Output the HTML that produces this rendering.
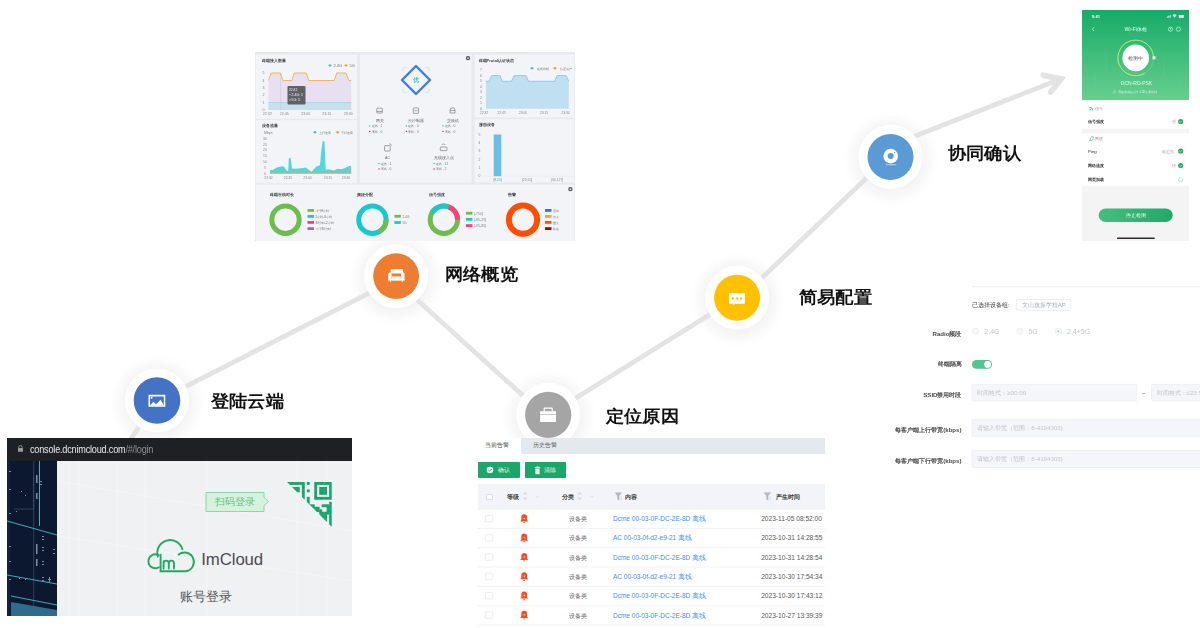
<!DOCTYPE html>
<html><head><meta charset="utf-8">
<style>
*{box-sizing:border-box;margin:0;padding:0}
html,body{width:1200px;height:628px;overflow:hidden;background:#fff;font-family:"Liberation Sans",sans-serif}
.abs{position:absolute}
.title{position:absolute;font-size:18px;font-weight:bold;color:#111;line-height:18px;white-space:nowrap;transform-origin:0 0;transform:scale(1.01,0.94)}
</style></head><body>
<!-- LINES & CIRCLES -->
<svg class="abs" style="left:0;top:0" width="1200" height="628" viewBox="0 0 1200 628">
<defs>
<radialGradient id="sh" cx="50%" cy="50%" r="50%">
<stop offset="0.6" stop-color="#f3f3f3" stop-opacity="1"/>
<stop offset="0.8" stop-color="#f9f9f9" stop-opacity="0.85"/>
<stop offset="1" stop-color="#fff" stop-opacity="0"/>
</radialGradient>
</defs>
<g fill="url(#sh)">
<circle cx="157.5" cy="402.5" r="50"/>
<circle cx="396.6" cy="278.1" r="50"/>
<circle cx="548.7" cy="416.8" r="50"/>
<circle cx="737.6" cy="299.8" r="50"/>
<circle cx="891.0" cy="158.9" r="50"/>
</g>
<g stroke="#e3e3e3" stroke-width="4.8" fill="none">
<line x1="105" y1="477" x2="157" y2="400.5"/>
<line x1="157" y1="401.1" x2="396.1" y2="279.4"/>
<line x1="396.1" y1="280.8" x2="548.2" y2="418.5"/>
<line x1="548.2" y1="415.2" x2="737.1" y2="297.5"/>
<line x1="737.1" y1="301.5" x2="890.5" y2="155.3"/>
<line x1="890.5" y1="145.8" x2="1060" y2="79.2"/>
<polyline points="1043.3,75.3 1061,79 1050.8,92" stroke-width="5.8" stroke-linecap="round" stroke-linejoin="miter" stroke-miterlimit="10"/>
</g>
<g fill="#fff">
<circle cx="157" cy="400.5" r="32"/>
<circle cx="396.1" cy="276.1" r="32"/>
<circle cx="548.2" cy="414.8" r="32"/>
<circle cx="737.1" cy="297.8" r="32"/>
<circle cx="890.5" cy="156.9" r="32"/>
</g>
<circle cx="157" cy="400.5" r="23.3" fill="#4472c4"/>
<circle cx="396.1" cy="276.1" r="22.9" fill="#ed7d31"/>
<circle cx="548.2" cy="414.8" r="23.1" fill="#a5a5a5"/>
<circle cx="737.1" cy="297.8" r="23" fill="#ffc000"/>
<circle cx="890.5" cy="156.9" r="23" fill="#5b9bd5"/>
<!-- icons -->
<g fill="#fff">
<!-- picture -->
<path d="M148.5,394.8h16.8v12h-16.8z M150,396.4v8.9h13.8v-8.9z" fill-rule="evenodd"/>
<path d="M150,405.5 L153.3,401.8 L156.1,404.3 L160.6,399.8 L164,405.5z"/>
<circle cx="151.6" cy="397.8" r="1"/>
<!-- sofa -->
<path d="M391.9,268.9h9.9a1.3,1.3 0 0 1 1.3,1.3v3.3h-12.5v-3.3a1.3,1.3 0 0 1 1.3,-1.3z"/>
<path d="M388.2,274.2a1.7,1.7 0 0 1 3.4,0v6.1h-3.4z"/><path d="M401.2,274.2a1.7,1.7 0 0 1 3.4,0v6.1h-3.4z"/>
<rect x="392.1" y="276.4" width="8.6" height="3.9"/>
<rect x="388.2" y="279.2" width="16.4" height="1.3"/>
<rect x="389.9" y="280.3" width="1.2" height="1.5"/><rect x="401.7" y="280.3" width="1.2" height="1.5"/>
<!-- toolbox -->
<path d="M543.6,411.2v-2.6a1.2,1.2 0 0 1 1.2,-1.2h6.8a1.2,1.2 0 0 1 1.2,1.2v2.6h-1.2v-2.4h-6.8v2.4z"/>
<rect x="540.1" y="411.2" width="15.9" height="3.2"/>
<rect x="540.1" y="415" width="15.9" height="7"/>
<!-- chat -->
<path d="M729.1,293.2h15.9v10.6h-10.2l-1.6,1.4v-1.4h-4.1z"/>
<!-- webcam -->
<circle cx="890.7" cy="156.1" r="7.3"/>
<rect x="886" y="164.4" width="9.8" height="0.8" opacity="0.75"/>
</g>
<g fill="#ffc000"><circle cx="732.7" cy="298.5" r="1.2"/><circle cx="737" cy="298.5" r="1.2"/><circle cx="741.2" cy="298.5" r="1.2"/></g>
<circle cx="890.7" cy="156.1" r="3" fill="#5b9bd5"/><circle cx="894.6" cy="152.3" r="0.6" fill="#5b9bd5"/>
</svg>
<div class="title" style="left:210.5px;top:393.4px">登陆云端</div>
<div class="title" style="left:445.3px;top:265.7px">网络概览</div>
<div class="title" style="left:605.5px;top:408px">定位原因</div>
<div class="title" style="left:799.1px;top:289.2px">简易配置</div>
<div class="title" style="left:948.1px;top:144.8px">协同确认</div>

<!-- DASHBOARD -->
<svg class="abs" style="left:255px;top:52px;filter:blur(0.25px)" width="320" height="189" viewBox="255 52 320 189" font-family="Liberation Sans, sans-serif">
<rect x="255" y="52" width="320" height="189" fill="#e7e9ee"/>
<g fill="#f3f4f7">
<rect x="256" y="54.5" width="101" height="64.3"/>
<rect x="256" y="120.2" width="101" height="63"/>
<rect x="360" y="54.6" width="111.6" height="128"/>
<rect x="474.6" y="54.6" width="99.6" height="63"/>
<rect x="474.6" y="119.2" width="99.6" height="63.4"/>
<rect x="256" y="184.6" width="318.2" height="56.4"/>
</g>
<!-- P1 -->
<text x="261.5" y="61.7" font-size="4.1" font-weight="bold" fill="#4a4a4a">终端接入数量</text>
<circle cx="330" cy="65.4" r="1.2" fill="#5ab4e8"/><line x1="328" y1="65.4" x2="332" y2="65.4" stroke="#5ab4e8" stroke-width="0.5"/>
<text x="333.5" y="67" font-size="4" fill="#777">2.4G</text>
<circle cx="346" cy="65.4" r="1.2" fill="#f0a030"/><line x1="344" y1="65.4" x2="348" y2="65.4" stroke="#f0a030" stroke-width="0.5"/>
<text x="349.5" y="67" font-size="4" fill="#777">5G</text>
<g font-size="3.6" fill="#888" text-anchor="middle">
<text x="263.5" y="74.2">5</text><text x="263.5" y="81.7">4</text><text x="263.5" y="89">3</text><text x="263.5" y="96.3">2</text><text x="263.5" y="103.5">1</text><text x="263.5" y="111.2">0</text>
<text x="267.2" y="115">22:32</text><text x="284.3" y="115">22:45</text><text x="305.7" y="115">23:00</text><text x="326.7" y="115">23:15</text><text x="348.3" y="115">23:30</text>
</g>
<path d="M268.5,80.5 L271.2,73 L280.3,73 L283,80.5 L291.8,80.5 L294.3,73 L306.2,73 L308.8,80.5 L334.2,80.5 L336.8,73 L346,73 L348.8,80.5 L351.2,80.5 L351.2,110 L268.5,110Z" fill="#e6e0f0"/>
<path d="M268.5,80.5 L271.2,73 L280.3,73 L283,80.5 L291.8,80.5 L294.3,73 L306.2,73 L308.8,80.5 L334.2,80.5 L336.8,73 L346,73 L348.8,80.5 L351.2,80.5" fill="none" stroke="#f2b04a" stroke-width="0.9" stroke-linejoin="round"/>
<rect x="268.5" y="102.3" width="82.7" height="7.7" fill="#c8dfee"/>
<line x1="268.5" y1="102.5" x2="351.2" y2="102.5" stroke="#a6d0ee" stroke-width="0.8"/>
<line x1="280.6" y1="73" x2="280.6" y2="110" stroke="#b8b8c8" stroke-width="0.3"/>
<rect x="287.5" y="86" width="18" height="18.5" rx="1" fill="#55565b" opacity="0.92"/>
<text x="289" y="90.5" font-size="3.3" fill="#eee">22:42</text>
<circle cx="290" cy="94.6" r="0.9" fill="#5ab4e8"/><text x="291.5" y="96" font-size="3.5" fill="#eee">2.4G: 1</text>
<circle cx="290" cy="99.8" r="0.9" fill="#f0a030"/><text x="291.5" y="101.2" font-size="3.5" fill="#eee">5G: 5</text>
<!-- P2 -->
<text x="261.5" y="127.2" font-size="4.1" font-weight="bold" fill="#4a4a4a">设备流量</text>
<text x="264" y="134" font-size="3.5" fill="#888">Mbps</text>
<circle cx="315" cy="132.3" r="1.2" fill="#5ab4e8"/><line x1="313" y1="132.3" x2="317" y2="132.3" stroke="#5ab4e8" stroke-width="0.5"/>
<text x="318.5" y="133.8" font-size="3.4" fill="#777">上行速率</text>
<circle cx="337.6" cy="132.3" r="1.2" fill="#f0a030"/><line x1="335.6" y1="132.3" x2="339.6" y2="132.3" stroke="#f0a030" stroke-width="0.5"/>
<text x="341" y="133.8" font-size="3.4" fill="#777">下行速率</text>
<g font-size="3.4" fill="#888" text-anchor="middle">
<text x="265" y="139.7">30</text><text x="265" y="145.5">25</text><text x="265" y="151.4">20</text><text x="265" y="157.2">15</text><text x="265" y="163.2">10</text><text x="265" y="169.2">5</text><text x="265" y="175">0</text>
<text x="268.5" y="179">22:32</text><text x="288" y="179">22:45</text><text x="307.5" y="179">23:00</text><text x="328" y="179">23:15</text><text x="346" y="179">23:30</text>
</g>
<path d="M270.1,173.7 L270.1,169.8 L272.9,170.1 L275.5,168.3 L277.4,167.3 L280.6,166.7 L282.5,166 L284.4,167.3 L286.9,170.9 L288.2,171.1 L288.8,158.4 L290.7,157.7 L292,168.6 L295.8,168.8 L300.9,168.3 L306,167.5 L308.6,169.8 L311.7,171.7 L313.7,169.2 L316.2,166.7 L320,165 L321.3,150.7 L322.6,141.2 L324.5,141.2 L325.7,169.8 L328.9,169.2 L334,170.5 L337.8,168.8 L341.7,169.2 L346.8,167.3 L349.3,166 L351.2,166.3 L351.2,173.7Z" fill="#4fd8dc"/>
<line x1="270.1" y1="172.8" x2="351.2" y2="172.8" stroke="#e8a850" stroke-width="0.7"/>
<!-- P3 -->
<path d="M416,66 L430,80 L416,94 L402,80Z" fill="none" stroke="#3b7cf6" stroke-width="2.4" stroke-linejoin="round"/>
<g fill="none" stroke="#a6e6dc" stroke-width="0.8">
<path d="M402.8,71 v-1.5 a2,2 0 0 1 2,-2 h1.5"/><path d="M429.2,71 v-1.5 a2,2 0 0 0 -2,-2 h-1.5"/>
<path d="M402.8,89 v1.5 a2,2 0 0 0 2,2 h1.5"/><path d="M429.2,89 v1.5 a2,2 0 0 1 -2,2 h-1.5"/>
</g>
<text x="416" y="82.4" font-size="6.2" font-weight="bold" fill="#3ccbb0" text-anchor="middle">优</text>
<circle cx="468" cy="58.2" r="1.5" fill="none" stroke="#4a4f5a" stroke-width="1.3"/>
<g fill="none" stroke="#7a7c85" stroke-width="0.7">
<rect x="376.8" y="108.2" width="5.6" height="4.8" rx="0.6"/><line x1="376.8" y1="111.4" x2="382.4" y2="111.4"/>
<rect x="413.3" y="108" width="5.2" height="5.4" rx="0.4"/><line x1="414.5" y1="110.7" x2="417.3" y2="110.7"/>
<path d="M450,113 v-3 l0.8,-2 h3.4 l0.8,2 v3z"/><line x1="450" y1="110.5" x2="455" y2="110.5"/>
<rect x="384.6" y="145.6" width="5.6" height="5.4" rx="0.5"/><path d="M389.5,143.6 a2.5,2.5 0 0 1 2,2"/>
<rect x="440.3" y="147" width="6.6" height="3.6" rx="0.5"/><path d="M441.8,145 a2,2 0 0 1 3.5,0"/>
</g>
<g font-size="3.5" fill="#666" text-anchor="middle">
<text x="379.5" y="121.5">网关</text><text x="416" y="121.5">云控制器</text><text x="452.5" y="121.5">交换机</text>
<text x="387.5" y="159.3">AC</text><text x="443.5" y="159.3">无线接入点</text>
</g>
<g font-size="3.4" fill="#777">
<text x="371.5" y="127.1">在线：1</text><text x="371.5" y="132.6">离线：0</text>
<text x="408" y="127.1">在线：0</text><text x="408" y="132.6">离线：0</text>
<text x="444.5" y="127.1">在线：0</text><text x="444.5" y="132.6">离线：0</text>
<text x="380.5" y="164.7">在线：1</text><text x="380.5" y="170.2">离线：0</text>
<text x="435.5" y="164.7">在线：11</text><text x="435.5" y="170.2">离线：2</text>
</g>
<g fill="#2ecc8a"><rect x="369" y="125.3" width="1.3" height="1.3"/><rect x="405.8" y="125.3" width="1.3" height="1.3"/><rect x="442.3" y="125.3" width="1.3" height="1.3"/><rect x="378.4" y="162.9" width="1.3" height="1.3"/><rect x="433.4" y="162.9" width="1.3" height="1.3"/></g>
<g fill="#d0306a"><rect x="369" y="130.8" width="1.3" height="1.3"/><rect x="405.8" y="130.8" width="1.3" height="1.3"/><rect x="442.3" y="130.8" width="1.3" height="1.3"/><rect x="378.4" y="168.4" width="1.3" height="1.3"/><rect x="433.4" y="168.4" width="1.3" height="1.3"/></g>
<!-- P4 -->
<text x="478.5" y="61.7" font-size="4.1" font-weight="bold" fill="#4a4a4a">终端Protal认证状态</text>
<circle cx="532" cy="68.2" r="1.2" fill="#5ab4e8"/><line x1="530" y1="68.2" x2="534" y2="68.2" stroke="#5ab4e8" stroke-width="0.5"/>
<text x="536.5" y="69.6" font-size="3.3" fill="#777">在线终端</text>
<circle cx="555" cy="68.2" r="1.2" fill="#f0a030"/><line x1="553" y1="68.2" x2="557" y2="68.2" stroke="#f0a030" stroke-width="0.5"/>
<text x="559.5" y="69.6" font-size="3.3" fill="#777">认证用户</text>
<g font-size="3.4" fill="#888" text-anchor="middle">
<text x="481" y="71.4">7</text><text x="481" y="77">6</text><text x="481" y="82.4">5</text><text x="481" y="87.9">4</text><text x="481" y="93.2">3</text><text x="481" y="98.8">2</text><text x="481" y="104.4">1</text><text x="481" y="109.9">0</text>
<text x="484" y="114">22:32</text><text x="501.6" y="114">22:45</text><text x="523" y="114">23:00</text><text x="544" y="114">23:15</text><text x="565.5" y="114">23:30</text>
</g>
<path d="M486,108.7 L486,81.3 L489.2,81.3 L491.5,75.6 L500,75.6 L502.5,81.3 L511.5,81.3 L514,75.6 L526,75.6 L528.5,81.3 L554.5,81.3 L557,75.6 L566,75.6 L568.8,81.3 L568.8,108.7Z" fill="#c0dff1"/>
<path d="M486,81.3 L489.2,81.3 L491.5,75.6 L500,75.6 L502.5,81.3 L511.5,81.3 L514,75.6 L526,75.6 L528.5,81.3 L554.5,81.3 L557,75.6 L566,75.6 L568.8,81.3" fill="none" stroke="#80c4ea" stroke-width="0.8"/>
<!-- P5 -->
<text x="478.5" y="125.7" font-size="4.1" font-weight="bold" fill="#4a4a4a">漫游设备</text>
<g font-size="3.4" fill="#888" text-anchor="middle">
<text x="479.5" y="135.5">5</text><text x="479.5" y="143.9">4</text><text x="479.5" y="152.2">3</text><text x="479.5" y="160.6">2</text><text x="479.5" y="169">1</text><text x="479.5" y="177.4">0</text>
<text x="497.5" y="181.2">(8,25]</text><text x="527" y="181.2">(25,50]</text><text x="557" y="181.2">(50,127]</text>
</g>
<line x1="482.5" y1="176.3" x2="574" y2="176.3" stroke="#dde0e6" stroke-width="0.4"/>
<rect x="493.7" y="134.5" width="7.6" height="41.7" fill="#6bbde6"/>
<!-- P6 -->
<g font-size="4.1" font-weight="bold" fill="#4a4a4a">
<text x="270.4" y="195.6">终端在线时长</text><text x="357.3" y="195.6">频段分配</text><text x="428.8" y="195.6">信号强度</text><text x="507.8" y="195.6">告警</text>
</g>
<circle cx="570.4" cy="189.2" r="1.5" fill="none" stroke="#4a4f5a" stroke-width="1.3"/>
<circle cx="285.5" cy="219.7" r="13.7" fill="none" stroke="#6cbd4e" stroke-width="5"/>
<circle cx="372.4" cy="219.7" r="13.7" fill="none" stroke="#16c9cf" stroke-width="5"/>
<path d="M386.1,219.7 A13.7,13.7 0 0 1 379.2,231.6" fill="none" stroke="#6cbd4e" stroke-width="5"/>
<circle cx="443.9" cy="219.7" r="13.7" fill="none" stroke="#6cbd4e" stroke-width="5"/>
<path d="M432,212.85 A13.7,13.7 0 0 1 448.6,206.8" fill="none" stroke="#16c9cf" stroke-width="5"/>
<path d="M448.6,206.8 A13.7,13.7 0 0 1 457.6,219.7" fill="none" stroke="#ff3d7a" stroke-width="5"/>
<circle cx="523" cy="219.7" r="14.1" fill="none" stroke="#ff4e00" stroke-width="6"/>
<g>
<rect x="307.5" y="209" width="6.5" height="2.8" fill="#6cbd4e"/><rect x="307.5" y="215" width="6.5" height="2.8" fill="#16c9cf"/><rect x="307.5" y="221" width="6.5" height="2.8" fill="#ff3d7a"/><rect x="307.5" y="227.2" width="6.5" height="2.8" fill="#9b6bc4"/>
<rect x="394.4" y="214.9" width="6.5" height="2.8" fill="#6cbd4e"/><rect x="394.4" y="221.1" width="6.5" height="2.8" fill="#16c9cf"/>
<rect x="465.9" y="211.8" width="6.5" height="2.8" fill="#6cbd4e"/><rect x="465.9" y="217.9" width="6.5" height="2.8" fill="#16c9cf"/><rect x="465.9" y="224.2" width="6.5" height="2.8" fill="#ff3d7a"/>
<rect x="545" y="209" width="6.5" height="2.8" fill="#1a7ee8"/><rect x="545" y="215" width="6.5" height="2.8" fill="#ffa31a"/><rect x="545" y="221" width="6.5" height="2.8" fill="#ff5100"/><rect x="545" y="227.2" width="6.5" height="2.8" fill="#b30000"/>
</g>
<g font-size="3.2" fill="#777">
<text x="315.5" y="211.7">大于8小时</text><text x="315.5" y="217.7">2小时-8小时</text><text x="315.5" y="223.7">30分钟-2小时</text><text x="315.5" y="229.9">小于30分钟</text>
<text x="402.5" y="217.6">2.4G</text><text x="402.5" y="223.8">5G</text>
<text x="474" y="214.5">(-75,0]</text><text x="474" y="220.6">(-85,-75]</text><text x="474" y="226.9">(-95,-85]</text>
<text x="553" y="211.7">通知</text><text x="553" y="217.7">次要</text><text x="553" y="223.7">重要</text><text x="553" y="229.9">紧急</text>
</g>
</svg>


<!-- PHONE -->
<div id="phone" class="abs" style="left:1082px;top:10px;width:107px;height:231px;background:#f4f4f5;overflow:hidden;filter:blur(0.2px)">
 <svg class="abs" style="left:0;top:0" width="107" height="231" viewBox="1082 10 107 231" font-family="Liberation Sans, sans-serif">
  <defs>
   <linearGradient id="pg" x1="0" y1="0" x2="0" y2="1"><stop offset="0" stop-color="#17ab68"/><stop offset="1" stop-color="#67cf8e"/></linearGradient>
   <linearGradient id="bg2" x1="0" y1="0" x2="1" y2="0"><stop offset="0" stop-color="#45c07c"/><stop offset="1" stop-color="#1eaa68"/></linearGradient>
  </defs>
  <rect x="1082" y="10" width="107" height="90" fill="url(#pg)"/>
  <g stroke="#ffffff" stroke-opacity="0.12" stroke-width="0.5"><line x1="1106" y1="50" x2="1106" y2="72"/><line x1="1164" y1="60" x2="1164" y2="75"/><line x1="1095" y1="76" x2="1095" y2="88"/><line x1="1180" y1="78" x2="1180" y2="90"/></g>
  <text x="1091.7" y="17.9" font-size="4.2" font-weight="bold" fill="#e8f7ee">9:41</text>
  <g fill="#f2fbf5"><rect x="1167" y="16.5" width="0.8" height="1.3"/><rect x="1168.4" y="15.8" width="0.8" height="2"/><rect x="1169.8" y="15" width="0.8" height="2.8"/>
   <path d="M1172.5,15.2 a3,3 0 0 1 4,0 l-2,2.6z"/><rect x="1178.8" y="15" width="5" height="2.8" rx="0.5"/></g>
  <path d="M1094,27.4 l-1.6,1.8 l1.6,1.8" fill="none" stroke="#f0faf4" stroke-width="0.7"/>
  <text x="1135.7" y="31" font-size="5.3" fill="#f0faf4" text-anchor="middle">Wi-Fi体检</text>
  <g fill="none" stroke="#eef9f2" stroke-width="0.6"><circle cx="1170.5" cy="29.2" r="2.1"/><circle cx="1178.4" cy="29.2" r="2.1"/><path d="M1170.5,28 v1.3 l0.8,0.6"/></g>
  <circle cx="1135.7" cy="57.9" r="17.8" fill="none" stroke="#9ee08f" stroke-width="0.5" stroke-opacity="0.7"/>
  <path d="M1153.5,57.9 A17.8,17.8 0 1 0 1144.6,73.3" fill="none" stroke="#c9ee74" stroke-width="0.8"/>
  <circle cx="1135.7" cy="57.9" r="13.3" fill="#fff"/>
  <circle cx="1154" cy="57.8" r="1.7" fill="#fff"/>
  <text x="1135.8" y="59.6" font-size="4.6" fill="#555" text-anchor="middle">检测中</text>
  <text x="1136.5" y="84.8" font-size="5" fill="#e6f8ee" text-anchor="middle">DCN-RD-PSK</text>
  <circle cx="1114.6" cy="91.8" r="1.1" fill="none" stroke="#e6f8ee" stroke-width="0.4"/>
  <text x="1137" y="93" font-size="3.4" fill="#dff5e8" text-anchor="middle">请在省成区为个工置法遗用到</text>
  <rect x="1082" y="100" width="107" height="28.5" fill="#fff"/>
  <rect x="1082" y="133.2" width="107" height="52.6" fill="#fff"/>
  <g fill="#38b978"><path d="M1089.6,107 a3.2,3.2 0 0 1 3.2,3.2 h-0.8 a2.4,2.4 0 0 0 -2.4,-2.4z M1089.6,108.6 a1.6,1.6 0 0 1 1.6,1.6 h-0.8 a0.8,0.8 0 0 0 -0.8,-0.8z"/><circle cx="1090" cy="109.8" r="0.5"/>
   <path d="M1089.5,140.5 l1.8,-3.6 l2.4,0.2 l-1.2,3z" fill="none" stroke="#38b978" stroke-width="0.6"/></g>
  <text x="1095" y="110.3" font-size="3.8" fill="#999">信号</text>
  <text x="1095" y="140.1" font-size="3.8" fill="#999">网速</text>
  <g font-size="4.4" fill="#333" font-weight="bold">
   <text x="1087.9" y="123">信号强度</text><text x="1087.9" y="167.2">网络速度</text><text x="1087.9" y="181.1">网页加载</text>
  </g>
  <text x="1088" y="152.6" font-size="4.4" fill="#333">Ping</text>
  <g font-size="4.2" fill="#aaa"><text x="1171.5" y="123">强</text><text x="1162" y="152.6">延迟低</text><text x="1171.5" y="167.2">快</text></g>
  <g fill="#22ae6a"><circle cx="1180.7" cy="121.5" r="2.6"/><circle cx="1180.7" cy="151" r="2.6"/><circle cx="1180.7" cy="165.6" r="2.6"/></g>
  <g fill="none" stroke="#fff" stroke-width="0.6"><path d="M1179.4,121.5 l0.9,0.9 l1.6,-1.6"/><path d="M1179.4,151 l0.9,0.9 l1.6,-1.6"/><path d="M1179.4,165.6 l0.9,0.9 l1.6,-1.6"/></g>
  <path d="M1180.7,177.2 a2.3,2.3 0 1 0 2.3,2.3" fill="none" stroke="#7cd2a4" stroke-width="0.6"/>
  <rect x="1098.7" y="208.5" width="74" height="13.6" rx="6.8" fill="url(#bg2)"/>
  <text x="1135.7" y="217" font-size="5" fill="#eafaf1" text-anchor="middle">停止检测</text>
  <rect x="1117" y="237.6" width="37.8" height="1.5" rx="0.7" fill="#2a2a2a"/>
 </svg>
</div>


<!-- CONFIG FORM -->
<svg id="form" class="abs" style="left:880px;top:280px;filter:blur(0.2px)" width="320" height="195" viewBox="880 280 320 195" font-family="Liberation Sans, sans-serif">
 <line x1="972" y1="286.8" x2="1200" y2="286.8" stroke="#e9ecef" stroke-width="1"/>
 <text x="972" y="307.4" font-size="6.2" fill="#3a3a3a">已选择设备组:</text>
 <rect x="1016.3" y="299.6" width="54.6" height="10.6" rx="1.5" fill="#fff" stroke="#dcdfe5" stroke-width="0.6"/>
 <text x="1021.7" y="307.2" font-size="6.1" fill="#a9acb2">文山旗振学校AP</text>
 <g font-size="6.1" font-weight="bold" fill="#4a4a4a" text-anchor="end">
  <text x="961.5" y="336">Radio频段</text>
  <text x="961.5" y="366.3">终端隔离</text>
  <text x="961.5" y="396.9">SSID禁用时段</text>
  <text x="961.5" y="432.1">每客户端上行带宽(kbps)</text>
  <text x="961.5" y="462.6">每客户端下行带宽(kbps)</text>
 </g>
 <g fill="#f6f7f9" stroke="#e4e7eb" stroke-width="0.6">
  <circle cx="975.5" cy="331.3" r="3.2"/><circle cx="1019.8" cy="331.3" r="3.2"/><circle cx="1058.3" cy="331.3" r="3.2"/>
 </g>
 <circle cx="1058.3" cy="331.3" r="0.9" fill="#b5b8be"/>
 <g font-size="7" fill="#c3c6cc"><text x="984.3" y="333.8">2.4G</text><text x="1028.4" y="333.8">5G</text><text x="1067" y="333.8">2.4+5G</text></g>
 <rect x="972" y="360.1" width="20" height="8.6" rx="4.3" fill="#52c590"/>
 <circle cx="987.6" cy="364.4" r="3.4" fill="#fff"/>
 <g fill="#f4f6f9" stroke="#e8ebef" stroke-width="0.6">
  <rect x="972" y="384.3" width="164.7" height="16.7" rx="1.2"/>
  <rect x="1151.5" y="384.3" width="60" height="16.7" rx="1.2"/>
  <rect x="972" y="419.4" width="240" height="17.2" rx="1.2"/>
  <rect x="972" y="450.4" width="240" height="17.1" rx="1.2"/>
 </g>
 <text x="1143.8" y="394.5" font-size="6" fill="#777" text-anchor="middle">~</text>
 <g font-size="6.2" fill="#c3c6cc">
  <text x="977.2" y="394.8">时间格式：≥00:00</text>
  <text x="1156.5" y="394.8">时间格式：≤23:59</text>
  <text x="977.2" y="430.2">请输入带宽（范围：8-4194303)</text>
  <text x="977.2" y="460.8">请输入带宽（范围：8-4194303)</text>
 </g>
</svg>


<!-- LOGIN -->
<div id="login" class="abs" style="left:7px;top:438px;width:345.3px;height:177.7px;background:#f0f1f3;overflow:hidden">
 <div class="abs" style="left:0;top:0;width:346px;height:22.7px;background:#1f2023"></div>
 <svg class="abs" style="left:10px;top:6.5px" width="7" height="7" viewBox="0 0 7 7"><path d="M1.8,3V2.2a1.7,1.7 0 0 1 3.4,0V3" fill="none" stroke="#9a9b9e" stroke-width="0.9"/><rect x="1" y="3" width="5" height="3.8" rx="0.5" fill="#9a9b9e"/></svg>
 <div class="abs" style="left:22.5px;top:4.5px;font-size:11px;line-height:13px;color:#e8e8ea;white-space:nowrap;letter-spacing:-0.25px;transform-origin:0 0;transform:scaleX(0.83)">console.dcnimcloud.com<span style="color:#8e8f93">/#/login</span></div>
 <svg class="abs" style="left:0;top:22.7px" width="50" height="156" viewBox="0 0 50 156">
  <rect width="50" height="156" fill="#0c1830"/>
  <rect x="0" y="0" width="3" height="156" fill="#13223d"/>
  <line x1="32.5" y1="0" x2="32.5" y2="65" stroke="#3fb3bd" stroke-width="1"/>
  <line x1="26.7" y1="0" x2="26.7" y2="150" stroke="#4a5b72" stroke-width="0.6"/>
  <path d="M26.7,15 v33 h-20" fill="none" stroke="#4a5b72" stroke-width="0.6"/>
  <line x1="0" y1="60" x2="50" y2="74" stroke="#3aa9b6" stroke-width="1.2"/>
  <line x1="0" y1="114" x2="50" y2="123" stroke="#3aa9b6" stroke-width="1.2"/>
  <line x1="4" y1="135" x2="50" y2="144" stroke="#3aa9b6" stroke-width="1.2"/>
  <path d="M4,141 L50,149 L50,156 L4,156Z" fill="#2f6b8a"/>
  <g fill="#7f90a6">
   <rect x="29" y="14" width="1.5" height="8"/><rect x="29" y="32" width="1.5" height="6"/>
   <rect x="29" y="83" width="1.5" height="10"/><rect x="29" y="98" width="1.5" height="7"/>
   <rect x="33" y="20" width="2" height="1"/><rect x="33" y="23" width="2" height="1"/>
   <rect x="35" y="75" width="2" height="1"/><rect x="35" y="78" width="2" height="1"/>
   <rect x="35" y="86" width="2" height="1"/><rect x="35" y="89" width="2" height="1"/>
   <rect x="35" y="100" width="2" height="1"/><rect x="35" y="103" width="2" height="1"/>
   <rect x="35" y="116" width="2" height="1"/><rect x="35" y="119" width="2" height="1"/>
   <rect x="2" y="10" width="2" height="1"/><rect x="2" y="28" width="2" height="1"/><rect x="2" y="52" width="2" height="1"/><rect x="2" y="85" width="2" height="1"/><rect x="2" y="100" width="2" height="1"/><rect x="2" y="118" width="2" height="1"/>
   <rect x="14" y="30" width="1" height="1"/><rect x="18" y="34" width="1" height="1"/><rect x="9" y="50" width="1" height="1"/><rect x="12" y="117" width="1" height="1"/><rect x="18" y="118" width="1" height="1"/><rect x="41" y="118" width="3" height="1"/><rect x="42" y="116" width="1" height="5"/>
   <rect x="46" y="88" width="2" height="1"/><rect x="46" y="92" width="2" height="1"/>
  </g>
 </svg>
 <svg class="abs" style="left:50px;top:22.7px" width="296" height="156" viewBox="0 0 296 156">
  <g stroke="#f7f8f9" stroke-width="0.8" opacity="0.9">
   <line x1="12" y1="0" x2="12" y2="156"/><line x1="22" y1="0" x2="22" y2="156"/><line x1="60" y1="0" x2="60" y2="156"/><line x1="88" y1="0" x2="88" y2="156"/><line x1="150" y1="0" x2="150" y2="156"/><line x1="240" y1="0" x2="240" y2="156"/><line x1="270" y1="0" x2="270" y2="156"/>
   <line x1="0" y1="20" x2="296" y2="70"/><line x1="0" y1="75" x2="296" y2="120"/>
  </g>
 </svg>
 <!-- scan tooltip -->
 
 <svg class="abs" style="left:198px;top:53px" width="66" height="22" viewBox="0 0 66 22">
  <path d="M1,1.5 H59 V6.3 L63.5,10.5 L59,14.7 V20.5 H1Z" fill="#d7f1df" stroke="#74d292" stroke-width="0.8"/>
  <text x="30" y="14.2" font-size="9.5" fill="#5fc27f" text-anchor="middle" font-family="Liberation Sans, sans-serif">扫码登录</text>
 </svg>
 <!-- QR corner -->
 <svg class="abs" style="left:280.4px;top:44.1px" width="46" height="46" viewBox="0 0 46 46">
  <defs><clipPath id="tri"><path d="M0,0 H44.7 V44.7Z"/></clipPath></defs>
  <g clip-path="url(#tri)" fill="#17a56b"><rect x="0.00" y="0.00" width="2.85" height="2.85"/><rect x="2.48" y="0.00" width="2.85" height="2.85"/><rect x="4.96" y="0.00" width="2.85" height="2.85"/><rect x="4.96" y="4.96" width="2.85" height="2.85"/><rect x="4.96" y="7.44" width="2.85" height="2.85"/><rect x="7.44" y="0.00" width="2.85" height="2.85"/><rect x="7.44" y="4.96" width="2.85" height="2.85"/><rect x="7.44" y="7.44" width="2.85" height="2.85"/><rect x="9.92" y="0.00" width="2.85" height="2.85"/><rect x="9.92" y="4.96" width="2.85" height="2.85"/><rect x="9.92" y="7.44" width="2.85" height="2.85"/><rect x="12.40" y="0.00" width="2.85" height="2.85"/><rect x="14.88" y="0.00" width="2.85" height="2.85"/><rect x="14.88" y="2.48" width="2.85" height="2.85"/><rect x="14.88" y="4.96" width="2.85" height="2.85"/><rect x="14.88" y="7.44" width="2.85" height="2.85"/><rect x="14.88" y="9.92" width="2.85" height="2.85"/><rect x="14.88" y="12.40" width="2.85" height="2.85"/><rect x="14.88" y="14.88" width="2.85" height="2.85"/><rect x="19.84" y="0.00" width="2.85" height="2.85"/><rect x="19.84" y="7.44" width="2.85" height="2.85"/><rect x="19.84" y="14.88" width="2.85" height="2.85"/><rect x="19.84" y="17.36" width="2.85" height="2.85"/><rect x="19.84" y="19.84" width="2.85" height="2.85"/><rect x="19.84" y="22.32" width="2.85" height="2.85"/><rect x="22.32" y="22.32" width="2.85" height="2.85"/><rect x="22.32" y="24.80" width="2.85" height="2.85"/><rect x="24.80" y="22.32" width="2.85" height="2.85"/><rect x="24.80" y="24.80" width="2.85" height="2.85"/><rect x="27.28" y="0.00" width="2.85" height="2.85"/><rect x="27.28" y="2.48" width="2.85" height="2.85"/><rect x="27.28" y="4.96" width="2.85" height="2.85"/><rect x="27.28" y="7.44" width="2.85" height="2.85"/><rect x="27.28" y="9.92" width="2.85" height="2.85"/><rect x="27.28" y="12.40" width="2.85" height="2.85"/><rect x="27.28" y="14.88" width="2.85" height="2.85"/><rect x="27.28" y="24.80" width="2.85" height="2.85"/><rect x="27.28" y="27.28" width="2.85" height="2.85"/><rect x="29.76" y="0.00" width="2.85" height="2.85"/><rect x="29.76" y="14.88" width="2.85" height="2.85"/><rect x="29.76" y="24.80" width="2.85" height="2.85"/><rect x="29.76" y="27.28" width="2.85" height="2.85"/><rect x="32.24" y="0.00" width="2.85" height="2.85"/><rect x="32.24" y="4.96" width="2.85" height="2.85"/><rect x="32.24" y="7.44" width="2.85" height="2.85"/><rect x="32.24" y="9.92" width="2.85" height="2.85"/><rect x="32.24" y="14.88" width="2.85" height="2.85"/><rect x="32.24" y="27.28" width="2.85" height="2.85"/><rect x="32.24" y="29.76" width="2.85" height="2.85"/><rect x="32.24" y="32.24" width="2.85" height="2.85"/><rect x="32.24" y="34.72" width="2.85" height="2.85"/><rect x="32.24" y="37.20" width="2.85" height="2.85"/><rect x="34.72" y="0.00" width="2.85" height="2.85"/><rect x="34.72" y="4.96" width="2.85" height="2.85"/><rect x="34.72" y="7.44" width="2.85" height="2.85"/><rect x="34.72" y="9.92" width="2.85" height="2.85"/><rect x="34.72" y="14.88" width="2.85" height="2.85"/><rect x="34.72" y="22.32" width="2.85" height="2.85"/><rect x="34.72" y="29.76" width="2.85" height="2.85"/><rect x="34.72" y="32.24" width="2.85" height="2.85"/><rect x="34.72" y="34.72" width="2.85" height="2.85"/><rect x="34.72" y="37.20" width="2.85" height="2.85"/><rect x="37.20" y="0.00" width="2.85" height="2.85"/><rect x="37.20" y="4.96" width="2.85" height="2.85"/><rect x="37.20" y="7.44" width="2.85" height="2.85"/><rect x="37.20" y="9.92" width="2.85" height="2.85"/><rect x="37.20" y="14.88" width="2.85" height="2.85"/><rect x="37.20" y="22.32" width="2.85" height="2.85"/><rect x="37.20" y="29.76" width="2.85" height="2.85"/><rect x="37.20" y="32.24" width="2.85" height="2.85"/><rect x="37.20" y="34.72" width="2.85" height="2.85"/><rect x="37.20" y="37.20" width="2.85" height="2.85"/><rect x="39.68" y="0.00" width="2.85" height="2.85"/><rect x="39.68" y="14.88" width="2.85" height="2.85"/><rect x="39.68" y="22.32" width="2.85" height="2.85"/><rect x="39.68" y="24.80" width="2.85" height="2.85"/><rect x="39.68" y="27.28" width="2.85" height="2.85"/><rect x="39.68" y="29.76" width="2.85" height="2.85"/><rect x="42.16" y="0.00" width="2.85" height="2.85"/><rect x="42.16" y="2.48" width="2.85" height="2.85"/><rect x="42.16" y="4.96" width="2.85" height="2.85"/><rect x="42.16" y="7.44" width="2.85" height="2.85"/><rect x="42.16" y="9.92" width="2.85" height="2.85"/><rect x="42.16" y="12.40" width="2.85" height="2.85"/><rect x="42.16" y="14.88" width="2.85" height="2.85"/><rect x="42.16" y="19.84" width="2.85" height="2.85"/><rect x="42.16" y="22.32" width="2.85" height="2.85"/><rect x="42.16" y="24.80" width="2.85" height="2.85"/><rect x="42.16" y="27.28" width="2.85" height="2.85"/><rect x="42.16" y="29.76" width="2.85" height="2.85"/><rect x="42.16" y="32.24" width="2.85" height="2.85"/><rect x="42.16" y="34.72" width="2.85" height="2.85"/><rect x="42.16" y="37.20" width="2.85" height="2.85"/><rect x="42.16" y="39.68" width="2.85" height="2.85"/><rect x="42.16" y="42.16" width="2.85" height="2.85"/><rect x="42.16" y="44.64" width="2.85" height="2.85"/></g>
 </svg>
 <!-- cloud logo -->
 <svg class="abs" style="left:133px;top:92px" width="60" height="50" viewBox="0 0 60 50">
  <g fill="none" stroke="#22a861" stroke-width="1.9" stroke-linecap="round">
  <path d="M18.9,37.2 A6.9,6.9 0 1 1 18.6,25.2"/>
  <path d="M17.8,26.5 A12.8,12.8 0 0 1 42.4,19.2"/>
  <path d="M38.6,24.6 A9.4,9.4 0 1 1 46,41.2 H20.6 V24.6"/>
  <path d="M23.6,38.6 V31.2 M23.6,33.2 a2.6,2.6 0 0 1 5.2,0 V38.6 M28.8,33.2 a2.6,2.6 0 0 1 5.2,0 V38.6"/>
  </g>
 </svg>
 <div class="abs" style="left:194.3px;top:111.5px;font-size:16.8px;line-height:20px;color:#4b4b4d;white-space:nowrap;letter-spacing:-0.1px">ImCloud</div>
 <div class="abs" style="left:172.8px;top:151.3px;font-size:12.6px;line-height:16px;color:#555;white-space:nowrap">账号登录</div>
</div>


<!-- ALARM TABLE -->
<div id="alarm" class="abs" style="left:477px;top:438px;width:348px;height:190px;background:#fff;overflow:hidden;font-family:'Liberation Sans',sans-serif">
 <div class="abs" style="left:43.7px;top:0;width:304.3px;height:15.5px;background:#e4e9f0"></div>
 <div class="abs" style="left:8.3px;top:2.1px;font-size:6.2px;line-height:10px;color:#444">当前告警</div>
 <div class="abs" style="left:56.3px;top:2.1px;font-size:6.2px;line-height:10px;color:#555">历史告警</div>
 <div class="abs" style="left:0.6px;top:23.9px;width:42.3px;height:16px;background:#1ba769;border-radius:1px"></div>
 <div class="abs" style="left:47.5px;top:23.9px;width:41.4px;height:16px;background:#1ba769;border-radius:1px"></div>
 <svg class="abs" style="left:9px;top:27.5px" width="9" height="9" viewBox="0 0 9 9"><circle cx="4" cy="4" r="3.3" fill="#fff"/><path d="M2.3,4 L3.6,5.2 L5.8,2.9" fill="none" stroke="#1ba769" stroke-width="0.9"/></svg>
 <div class="abs" style="left:20.9px;top:26.8px;font-size:6.4px;line-height:10px;color:#eafaf1">确认</div>
 <svg class="abs" style="left:57px;top:27.5px" width="8" height="9" viewBox="0 0 8 9"><rect x="0.8" y="1.2" width="5.4" height="1" fill="#e8f8ef"/><rect x="1.4" y="2.6" width="4.2" height="5.6" fill="#e8f8ef"/><rect x="2.6" y="0.4" width="1.8" height="0.9" fill="#e8f8ef"/></svg>
 <div class="abs" style="left:67px;top:26.8px;font-size:6.4px;line-height:10px;color:#eafaf1">清除</div>
 <!-- header -->
 <div class="abs" style="left:0.6px;top:46.2px;width:348px;height:25.4px;background:#f2f4f7"></div>
 <div class="abs" style="left:8.5px;top:55.7px;width:7.3px;height:6.5px;border:0.8px solid #dcdfe5;background:#fff;border-radius:1px"></div>
 <div class="abs" style="left:30.4px;top:53.6px;font-size:6.4px;line-height:10px;color:#3a3a3a;font-weight:bold">等级</div>
 <div class="abs" style="left:85px;top:53.6px;font-size:6.4px;line-height:10px;color:#3a3a3a;font-weight:bold">分类</div>
 <div class="abs" style="left:148.3px;top:53.6px;font-size:6.4px;line-height:10px;color:#3a3a3a;font-weight:bold">内容</div>
 <div class="abs" style="left:298.8px;top:53.6px;font-size:6.4px;line-height:10px;color:#3a3a3a;font-weight:bold">产生时间</div>
 <svg class="abs" style="left:0;top:46px" width="348" height="26" viewBox="0 0 348 26">
  <g fill="none" stroke="#b9bdc5" stroke-width="0.8"><path d="M46.6,10.6 l1.6,-1.9 l1.6,1.9 M46.6,13.4 l1.6,1.9 l1.6,-1.9"/><path d="M101.1,10.6 l1.6,-1.9 l1.6,1.9 M101.1,13.4 l1.6,1.9 l1.6,-1.9"/></g>
  <g fill="none" stroke="#cdd0d6" stroke-width="0.6"><path d="M59.2,11.8 l1.4,1.4 l1.4,-1.4"/><path d="M113.5,11.8 l1.4,1.4 l1.4,-1.4"/></g>
  <g fill="#b3b7bf"><path d="M137.5,8.6 h7.6 l-2.8,3.2 v4.6 l-2,-1.1 v-3.5z"/><path d="M286.5,8.6 h7.6 l-2.8,3.2 v4.6 l-2,-1.1 v-3.5z"/></g>
  <g fill="#d0d3d9"><rect x="143.4" y="12.6" width="1.6" height="0.8"/><rect x="143.4" y="14.6" width="1.6" height="0.8"/><rect x="292.4" y="12.6" width="1.6" height="0.8"/><rect x="292.4" y="14.6" width="1.6" height="0.8"/></g>
 </svg>
 <!-- rows -->
 <svg class="abs" style="left:0;top:71.6px" width="348" height="120" viewBox="0 0 348 120" font-family="Liberation Sans, sans-serif">
  <g stroke="#eef0f3" stroke-width="0.8">
   <line x1="0.6" y1="18.5" x2="348" y2="18.5"/><line x1="0.6" y1="37.8" x2="348" y2="37.8"/><line x1="0.6" y1="57.1" x2="348" y2="57.1"/><line x1="0.6" y1="76.4" x2="348" y2="76.4"/><line x1="0.6" y1="95.7" x2="348" y2="95.7"/><line x1="0.6" y1="115" x2="348" y2="115"/>
  </g>
  <g id="rowicons">
<rect x="8.4" y="5.3" width="7.3" height="6.5" rx="1" fill="#fff" stroke="#e3e5ea" stroke-width="0.7"/>
<g transform="translate(47.2,8.7)"><path d="M-2.9,1.4 V-1.2 A2.9,3.2 0 0 1 2.9,-1.2 V1.4 L4,2.7 H-4Z M-0.9,-4.4 h1.8 v1 h-1.8z" fill="#ff4a1c"/><path d="M-1,3.3 h2 a1,1 0 0 1 -2,0z" fill="#ff4a1c"/><path d="M0.5,-2.4 L-0.9,0 H0.4 L-0.4,1.9 L1.1,-0.6 H-0.1Z" fill="#fff"/></g>
<text x="92" y="11.0" font-size="6.3" fill="#666">设备类</text>
<text x="136" y="11.0" font-size="6.5" fill="#3d8ef2">Dcme 00-03-0F-DC-2E-8D 离线</text>
<text x="284.2" y="11.0" font-size="6.6" fill="#555">2023-11-05 08:52:00</text>
<rect x="8.4" y="24.6" width="7.3" height="6.5" rx="1" fill="#fff" stroke="#e3e5ea" stroke-width="0.7"/>
<g transform="translate(47.2,28.0)"><path d="M-2.9,1.4 V-1.2 A2.9,3.2 0 0 1 2.9,-1.2 V1.4 L4,2.7 H-4Z M-0.9,-4.4 h1.8 v1 h-1.8z" fill="#ff4a1c"/><path d="M-1,3.3 h2 a1,1 0 0 1 -2,0z" fill="#ff4a1c"/><path d="M0.5,-2.4 L-0.9,0 H0.4 L-0.4,1.9 L1.1,-0.6 H-0.1Z" fill="#fff"/></g>
<text x="92" y="30.3" font-size="6.3" fill="#666">设备类</text>
<text x="136" y="30.3" font-size="6.5" fill="#3d8ef2">AC 00-03-0f-d2-e9-21 离线</text>
<text x="284.2" y="30.3" font-size="6.6" fill="#555">2023-10-31 14:28:55</text>
<rect x="8.4" y="43.9" width="7.3" height="6.5" rx="1" fill="#fff" stroke="#e3e5ea" stroke-width="0.7"/>
<g transform="translate(47.2,47.3)"><path d="M-2.9,1.4 V-1.2 A2.9,3.2 0 0 1 2.9,-1.2 V1.4 L4,2.7 H-4Z M-0.9,-4.4 h1.8 v1 h-1.8z" fill="#ff4a1c"/><path d="M-1,3.3 h2 a1,1 0 0 1 -2,0z" fill="#ff4a1c"/><path d="M0.5,-2.4 L-0.9,0 H0.4 L-0.4,1.9 L1.1,-0.6 H-0.1Z" fill="#fff"/></g>
<text x="92" y="49.6" font-size="6.3" fill="#666">设备类</text>
<text x="136" y="49.6" font-size="6.5" fill="#3d8ef2">Dcme 00-03-0F-DC-2E-8D 离线</text>
<text x="284.2" y="49.6" font-size="6.6" fill="#555">2023-10-31 14:28:54</text>
<rect x="8.4" y="63.2" width="7.3" height="6.5" rx="1" fill="#fff" stroke="#e3e5ea" stroke-width="0.7"/>
<g transform="translate(47.2,66.6)"><path d="M-2.9,1.4 V-1.2 A2.9,3.2 0 0 1 2.9,-1.2 V1.4 L4,2.7 H-4Z M-0.9,-4.4 h1.8 v1 h-1.8z" fill="#ff4a1c"/><path d="M-1,3.3 h2 a1,1 0 0 1 -2,0z" fill="#ff4a1c"/><path d="M0.5,-2.4 L-0.9,0 H0.4 L-0.4,1.9 L1.1,-0.6 H-0.1Z" fill="#fff"/></g>
<text x="92" y="68.9" font-size="6.3" fill="#666">设备类</text>
<text x="136" y="68.9" font-size="6.5" fill="#3d8ef2">AC 00-03-0f-d2-e9-21 离线</text>
<text x="284.2" y="68.9" font-size="6.6" fill="#555">2023-10-30 17:54:34</text>
<rect x="8.4" y="82.5" width="7.3" height="6.5" rx="1" fill="#fff" stroke="#e3e5ea" stroke-width="0.7"/>
<g transform="translate(47.2,85.9)"><path d="M-2.9,1.4 V-1.2 A2.9,3.2 0 0 1 2.9,-1.2 V1.4 L4,2.7 H-4Z M-0.9,-4.4 h1.8 v1 h-1.8z" fill="#ff4a1c"/><path d="M-1,3.3 h2 a1,1 0 0 1 -2,0z" fill="#ff4a1c"/><path d="M0.5,-2.4 L-0.9,0 H0.4 L-0.4,1.9 L1.1,-0.6 H-0.1Z" fill="#fff"/></g>
<text x="92" y="88.2" font-size="6.3" fill="#666">设备类</text>
<text x="136" y="88.2" font-size="6.5" fill="#3d8ef2">Dcme 00-03-0F-DC-2E-8D 离线</text>
<text x="284.2" y="88.2" font-size="6.6" fill="#555">2023-10-30 17:43:12</text>
<rect x="8.4" y="101.8" width="7.3" height="6.5" rx="1" fill="#fff" stroke="#e3e5ea" stroke-width="0.7"/>
<g transform="translate(47.2,105.2)"><path d="M-2.9,1.4 V-1.2 A2.9,3.2 0 0 1 2.9,-1.2 V1.4 L4,2.7 H-4Z M-0.9,-4.4 h1.8 v1 h-1.8z" fill="#ff4a1c"/><path d="M-1,3.3 h2 a1,1 0 0 1 -2,0z" fill="#ff4a1c"/><path d="M0.5,-2.4 L-0.9,0 H0.4 L-0.4,1.9 L1.1,-0.6 H-0.1Z" fill="#fff"/></g>
<text x="92" y="107.5" font-size="6.3" fill="#666">设备类</text>
<text x="136" y="107.5" font-size="6.5" fill="#3d8ef2">Dcme 00-03-0F-DC-2E-8D 离线</text>
<text x="284.2" y="107.5" font-size="6.6" fill="#555">2023-10-27 13:39:39</text>
  </g>
 </svg>
</div>

</body></html>
